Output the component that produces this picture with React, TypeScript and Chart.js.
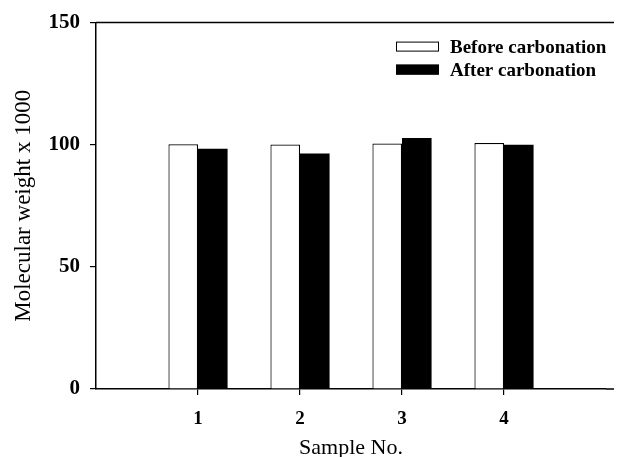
import React, { useEffect, useRef } from 'react';
import { Chart, registerables } from 'chart.js';

Chart.register(...registerables);

const samples = ['1', '2', '3', '4'];
const beforeCarbonation = [100.2, 100.1, 100.5, 100.7];
const afterCarbonation = [98.4, 96.4, 102.8, 100.0];
const yTicks = [0, 50, 100, 150];
const seriesNames = ['Before carbonation', 'After carbonation'];
const xTitle = 'Sample No.';
const yTitle = 'Molecular weight x 1000';

const SERIF = "'Liberation Serif', 'Times New Roman', serif";

export default function App() {
  const ref = useRef<HTMLCanvasElement>(null);

  useEffect(() => {
    if (!ref.current) return;
    const labels = ['', ...samples, ''];
    const pad = (a: number[]) => [null, ...a, null];

    const framePlugin = {
      id: 'frameLegend',
      afterDraw(chart: any) {
        const { ctx, chartArea } = chart;
        const { left, right, top, bottom } = chartArea;
        ctx.save();
        ctx.strokeStyle = '#000';
        ctx.lineWidth = 1.5;
        ctx.beginPath();
        ctx.moveTo(left, top);
        ctx.lineTo(right + 8, top);
        ctx.stroke();
        ctx.beginPath();
        ctx.moveTo(right, bottom);
        ctx.lineTo(right + 8, bottom);
        ctx.stroke();
        // legend
        const boxW = 43;
        const boxH = 10;
        const x0 = right - 210;
        const y0 = top + 24;
        ctx.font = `bold 19px ${SERIF}`;
        ctx.textBaseline = 'middle';
        ctx.textAlign = 'left';
        chart.data.datasets.forEach((ds: any, i: number) => {
          const yy = y0 + i * 23;
          ctx.fillStyle = ds.backgroundColor;
          ctx.fillRect(x0, yy - boxH / 2, boxW, boxH);
          ctx.lineWidth = 1;
          ctx.strokeStyle = '#000';
          ctx.strokeRect(x0 + 0.5, yy - boxH / 2 + 0.5, boxW - 1, boxH - 1);
          ctx.fillStyle = '#000';
          ctx.fillText(ds.label, x0 + 54, yy + 1);
        });
        ctx.restore();
      },
    };

    const chart = new Chart(ref.current, {
      type: 'bar',
      data: {
        labels,
        datasets: [
          {
            label: seriesNames[0],
            data: pad(beforeCarbonation),
            backgroundColor: '#ffffff',
            borderColor: '#000000',
            borderWidth: 1.2,
            categoryPercentage: 0.58,
            barPercentage: 1.0,
          },
          {
            label: seriesNames[1],
            data: pad(afterCarbonation),
            backgroundColor: '#000000',
            borderColor: '#000000',
            borderWidth: 0,
            categoryPercentage: 0.58,
            barPercentage: 1.0,
          },
        ],
      },
      options: {
        responsive: false,
        animation: false,
        layout: { padding: { top: 21, right: 9, left: 0, bottom: 0 } },
        plugins: {
          legend: { display: false },
          tooltip: { enabled: false },
        },
        scales: {
          x: {
            type: 'category',
            offset: false,
            grid: {
              offset: false,
              drawOnChartArea: false,
              tickLength: 6,
              lineWidth: 1.2,
              color: (c: any) =>
                c.index === 0 || c.index === labels.length - 1 ? 'rgba(0,0,0,0)' : '#000',
            },
            border: { color: '#000', width: 1.5 },
            ticks: {
              color: '#000',
              font: { family: SERIF, size: 19, weight: 'bold' },
              padding: 13,
              maxRotation: 0,
              autoSkip: false,
            },
            title: {
              display: true,
              text: xTitle,
              color: '#000',
              font: { family: SERIF, size: 22, lineHeight: 0.8 },
              padding: { top: 0, bottom: 0 },
            },
            afterFit: (s: any) => {
              s.height = 68;
            },
          },
          y: {
            min: 0,
            max: 150,
            afterBuildTicks: (s: any) => {
              s.ticks = yTicks.map((v) => ({ value: v }));
            },
            grid: {
              drawOnChartArea: false,
              tickLength: 6,
              lineWidth: 1.2,
              color: '#000',
            },
            border: { color: '#000', width: 1.5 },
            ticks: {
              color: '#000',
              font: { family: SERIF, size: 21, weight: 'bold' },
              padding: 10,
            },
            title: {
              display: true,
              text: yTitle,
              color: '#000',
              font: { family: SERIF, size: 23, lineHeight: 1 },
              padding: { top: 12, bottom: 0 },
            },
            afterFit: (s: any) => {
              s.width = 96;
            },
          },
        },
      },
      plugins: [framePlugin],
    });
    return () => chart.destroy();
  }, []);

  return (
    <div style={{ position: 'absolute', left: 0, top: 0, width: 619, height: 457, background: '#fff' }}>
      <canvas ref={ref} width={619} height={457} style={{ display: 'block' }} />
    </div>
  );
}
